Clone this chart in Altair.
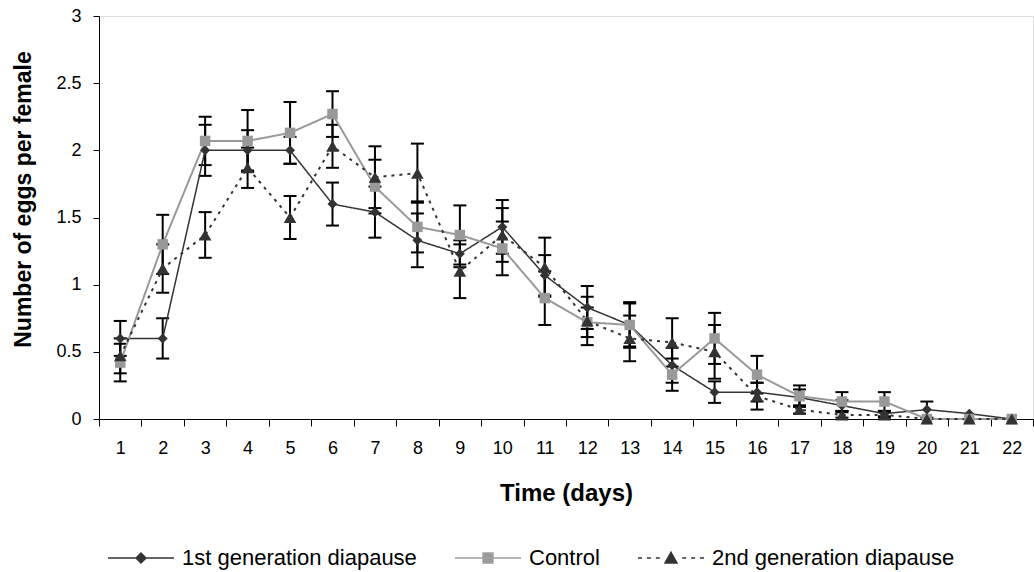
import altair as alt
import pandas as pd

# ---------------- data ----------------
days = list(range(1, 23))
series_names = ["1st generation diapause", "Control", "2nd generation diapause"]

gen1 = [0.60, 0.60, 2.00, 2.00, 2.00, 1.60, 1.54, 1.33, 1.23, 1.43, 1.07,
        0.83, 0.70, 0.40, 0.20, 0.20, 0.16, 0.10, 0.04, 0.07, 0.04, 0.00]
gen1_err = [0.13, 0.15, 0.19, 0.15, 0.10, 0.16, 0.19, 0.20, 0.10, 0.20, 0.15,
            0.16, 0.17, 0.13, 0.08, 0.07, 0.06, 0.04, 0.02, 0.06, 0.00, 0.00]

control = [0.42, 1.30, 2.07, 2.07, 2.13, 2.27, 1.73, 1.43, 1.37, 1.27, 0.90,
           0.72, 0.70, 0.33, 0.60, 0.33, 0.17, 0.13, 0.13, 0.00, 0.00, 0.00]
control_err = [0.14, 0.22, 0.18, 0.23, 0.23, 0.17, 0.20, 0.19, 0.22, 0.20, 0.20,
               0.11, 0.16, 0.12, 0.19, 0.14, 0.08, 0.07, 0.07, 0.00, 0.00, 0.00]

gen2 = [0.47, 1.12, 1.37, 1.87, 1.50, 2.03, 1.80, 1.83, 1.10, 1.37, 1.13,
        0.73, 0.60, 0.57, 0.50, 0.17, 0.07, 0.03, 0.03, 0.00, 0.00, 0.00]
gen2_err = [0.13, 0.18, 0.17, 0.15, 0.16, 0.16, 0.23, 0.22, 0.20, 0.20, 0.22,
            0.18, 0.17, 0.18, 0.20, 0.10, 0.03, 0.02, 0.02, 0.00, 0.00, 0.00]

y_ticks = [0, 0.5, 1, 1.5, 2, 2.5, 3]

rows = []
for name, vals, errs in zip(series_names, [gen1, control, gen2],
                            [gen1_err, control_err, gen2_err]):
    for d, v, e in zip(days, vals, errs):
        rows.append({"day": d, "series": name, "value": v, "err": e})
df = pd.DataFrame(rows)

# ---------------- styles ----------------
FONT = "Liberation Sans"
DARK = "#333333"
GREY = "#999999"
styles = {
    "1st generation diapause": dict(color=DARK, shape="diamond", size=100, dash=[1, 0], width=1.5),
    "Control": dict(color=GREY, shape="square", size=110, dash=[1, 0], width=2),
    "2nd generation diapause": dict(color=DARK, shape="triangle-up", size=160, dash=[3, 5], width=2),
}

# legend symbols: line + marker drawn as one custom path (unit box -1..1)
legend_paths = [
    "M-1,0H1M-0.15,0L0,-0.15L0.15,0L0,0.15Z",
    "M-1,0H1M-0.15,-0.15H0.15V0.15H-0.15Z",
    "M-1,0H-0.88M-0.73,0H-0.61M-0.46,0H-0.34M0.34,0H0.46M0.61,0H0.73M0.88,0H1"
    "M0,-0.17L0.18,0.15L-0.18,0.15Z",
]
legend_fill = [DARK, GREY, DARK]
legend_stroke = [DARK, "#a0a0a0", DARK]

x_axis = alt.Axis(title="Time (days)", tickBand="extent", labelAngle=0, grid=False,
                  tickSize=7, tickColor="black", domainColor="black",
                  labelFont=FONT, labelFontSize=18, labelColor="black", labelPadding=13,
                  titleFont=FONT, titleFontSize=24, titleFontWeight="bold", titleColor="black",
                  titleY=74, titleBaseline="middle")
y_axis = alt.Axis(title="Number of eggs per female", values=y_ticks, format=".1~f", grid=False,
                  tickSize=6, tickColor="black", domainColor="black",
                  labelFont=FONT, labelFontSize=18, labelColor="black", labelPadding=12,
                  titleFont=FONT, titleFontSize=23, titleFontWeight="bold", titleColor="black",
                  titleX=-76, titleY=183, titleBaseline="middle", titleAngle=270)

x_scale = alt.Scale(type="band", domain=days, paddingInner=0, paddingOuter=0)
y_scale = alt.Scale(domain=[0, 3], nice=False)

def X():
    return alt.X("day:O", scale=x_scale, axis=x_axis)

base = alt.Chart(df)

err = base.transform_filter("datum.err > 0").transform_calculate(
    lo="datum.value - datum.err", hi="datum.value + datum.err")

err_rule = err.mark_rule(color="black", strokeWidth=2).encode(
    x=X(), y=alt.Y("lo:Q", scale=y_scale, axis=y_axis), y2="hi:Q")
cap_lo = err.mark_tick(color="black", thickness=2, size=13, opacity=1).encode(
    x=X(), y=alt.Y("lo:Q", scale=y_scale, axis=y_axis))
cap_hi = err.mark_tick(color="black", thickness=2, size=13, opacity=1).encode(
    x=X(), y=alt.Y("hi:Q", scale=y_scale, axis=y_axis))

layers = [err_rule, cap_lo, cap_hi]
for name in series_names:
    st = styles[name]
    sub = base.transform_filter(alt.datum.series == name)
    layers.append(sub.mark_line(color=st["color"], strokeWidth=st["width"],
                                strokeDash=st["dash"]).encode(
        x=X(), y=alt.Y("value:Q", scale=y_scale, axis=y_axis)))
for name in series_names:
    st = styles[name]
    sub = base.transform_filter(alt.datum.series == name)
    layers.append(sub.mark_point(filled=True, color=st["color"], shape=st["shape"],
                                 size=st["size"], opacity=1).encode(
        x=X(), y=alt.Y("value:Q", scale=y_scale, axis=y_axis)))

leg_cfg = dict(title=None, orient="none", direction="horizontal", legendX=8, legendY=508,
               labelFont=FONT, labelFontSize=22, labelColor="black", labelOffset=7,
               columnPadding=35, padding=0, symbolSize=4356, symbolStrokeWidth=1.5,
               labelLimit=500)
legend_layer = base.transform_filter("datum.day < 0").mark_point(
    filled=True, size=4356, strokeWidth=1.5, opacity=1).encode(
    fill=alt.Fill("series:N", scale=alt.Scale(domain=series_names, range=legend_fill),
                  legend=alt.Legend(**leg_cfg)),
    stroke=alt.Stroke("series:N", scale=alt.Scale(domain=series_names, range=legend_stroke),
                      legend=alt.Legend(**leg_cfg)),
    shape=alt.Shape("series:N", scale=alt.Scale(domain=series_names, range=legend_paths),
                    legend=alt.Legend(**leg_cfg)),
)
layers.append(legend_layer)

chart = alt.layer(*layers).properties(
    width=934, height=403,
    autosize=alt.AutoSizeParams(type="none"),
    padding={"left": 99, "top": 16, "right": 1, "bottom": 153},
).configure_view(stroke=None).configure(background="white")

chart.save("out.html", embed_options={"renderer": "svg", "actions": False})
